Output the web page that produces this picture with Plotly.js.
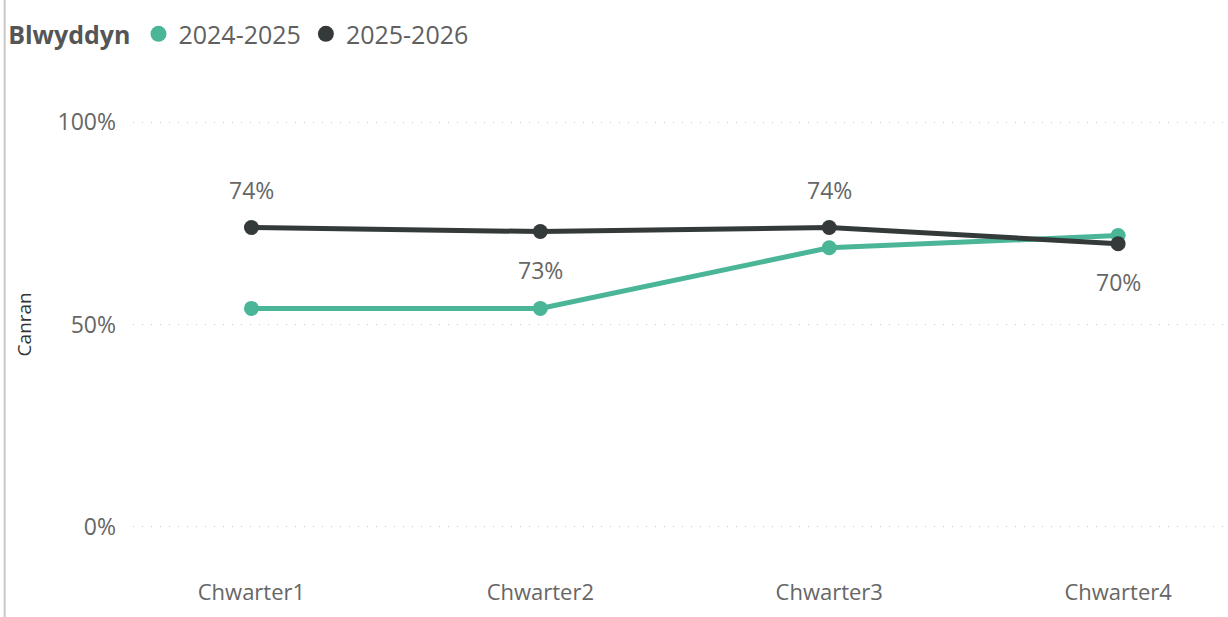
<!DOCTYPE html>
<html>
<head>
<meta charset="utf-8">
<script src="https://cdn.plot.ly/plotly-3.0.1.min.js"></script>
<style>
html,body{margin:0;padding:0;background:#fff;}
#chart{width:1228px;height:617px;}
</style>
</head>
<body>
<div id="chart"></div>
<script>
const quarters = ["Chwarter1", "Chwarter2", "Chwarter3", "Chwarter4"];
const series2425 = [54, 54, 69, 72];
const series2526 = [74, 73, 74, 70];
const labelSides = [1, -1, 1, -1];   // 1 = above, -1 = below
const yTicks = [0, 50, 100];
const yTickText = ["0%", "50%", "100%"];
const seriesNames = ["2024-2025", "2025-2026"];
const legendTitle = "Blwyddyn";
const yTitle = "Canran";

const teal = "#4BB598";
const dark = "#343939";
const FONT = "Open Sans, sans-serif";

const traces = [
  {x: quarters, y: series2425, type: "scatter", mode: "lines+markers",
   line: {color: teal, width: 5}, marker: {color: teal, size: 15},
   showlegend: false, hoverinfo: "skip"},
  {x: quarters, y: series2526, type: "scatter", mode: "lines+markers",
   line: {color: dark, width: 5}, marker: {color: dark, size: 15},
   showlegend: false, hoverinfo: "skip"},
  {x: [null], y: [null], type: "scatter", mode: "markers", name: seriesNames[0],
   marker: {color: teal, size: 19}},
  {x: [null], y: [null], type: "scatter", mode: "markers", name: seriesNames[1],
   marker: {color: dark, size: 19}}
];

const annotations = series2526.map((v, i) => ({
  x: quarters[i], y: v, xref: "x", yref: "y", text: v + "%",
  showarrow: false, yshift: 38 * labelSides[i],
  font: {family: FONT, size: 23, color: "#666666"}
}));
annotations.push({
  text: yTitle, xref: "paper", yref: "y", x: -0.1, y: 50, showarrow: false,
  textangle: -90, xanchor: "center", yanchor: "middle",
  font: {family: FONT, size: 19, color: "#333333"}
});

const layout = {
  width: 1228, height: 617,
  margin: {l: 133, r: 3, t: 90, b: 74},
  paper_bgcolor: "#ffffff", plot_bgcolor: "#ffffff",
  showlegend: true,
  legend: {
    orientation: "h", xref: "container", yref: "container",
    x: 0.005, y: 0.982, xanchor: "left", yanchor: "top",
    title: {text: "<b>" + legendTitle + "</b>", font: {family: FONT, size: 25, color: "#555555"}},
    font: {family: FONT, size: 25, color: "#606060"},
    itemwidth: 30, tracegroupgap: 0
  },
  xaxis: {
    type: "category", range: [-0.41, 3.37],
    showgrid: false, zeroline: false, showline: false, ticks: "",
    ticklabelstandoff: 34,
    tickfont: {family: FONT, size: 22, color: "#666666"}
  },
  yaxis: {
    range: [-4, 108], tickvals: yTicks, ticktext: yTickText,
    showgrid: true, gridcolor: "#c8c8c8", gridwidth: 1, griddash: "1px,8px",
    zeroline: false, showline: false, ticks: "",
    ticklabelstandoff: 16,
    tickfont: {family: FONT, size: 23, color: "#666666"}
  },
  annotations: annotations,
  shapes: [{type: "line", xref: "paper", yref: "paper",
            x0: -0.1175, x1: -0.1175, y0: -0.2, y1: 1.25,
            line: {color: "#c8c8c8", width: 2}}]
};

Plotly.newPlot("chart", traces, layout, {displayModeBar: false, staticPlot: true});
</script>
</body>
</html>
